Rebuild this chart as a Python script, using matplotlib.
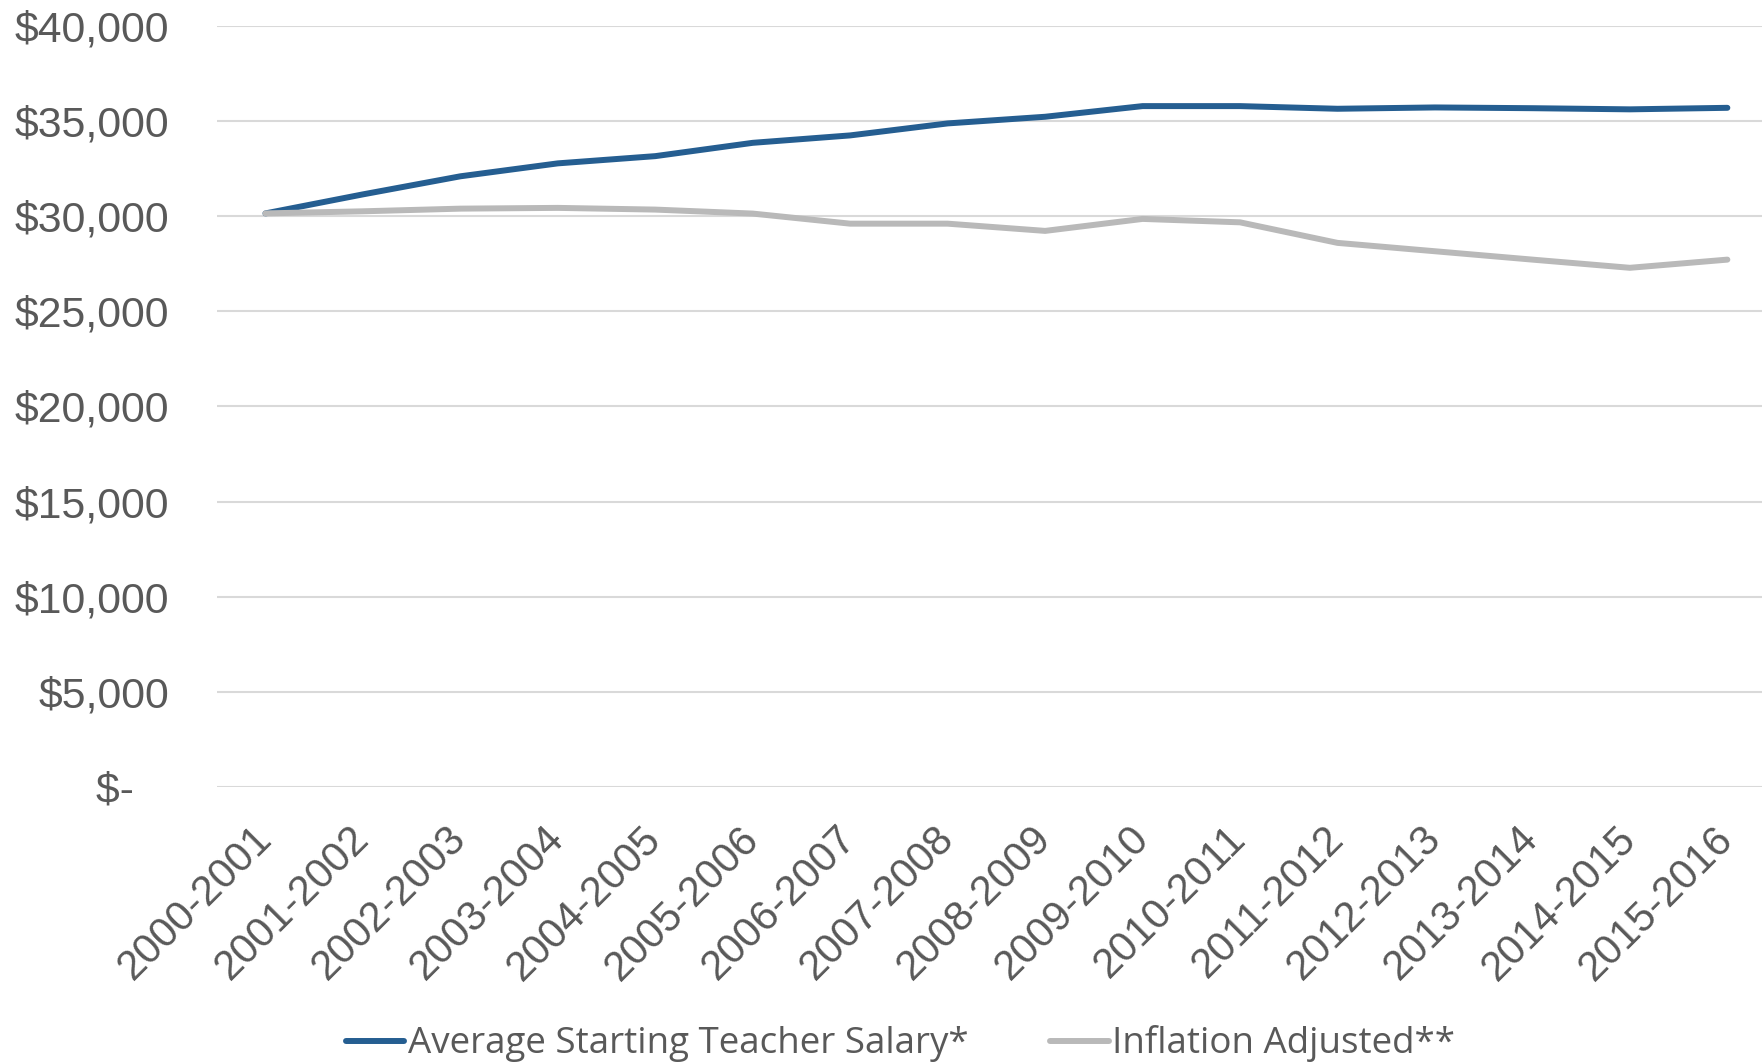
import matplotlib.pyplot as plt
from matplotlib import font_manager
from matplotlib.ticker import FuncFormatter

years = ['2000-2001', '2001-2002', '2002-2003', '2003-2004', '2004-2005',
         '2005-2006', '2006-2007', '2007-2008', '2008-2009', '2009-2010',
         '2010-2011', '2011-2012', '2012-2013', '2013-2014', '2014-2015',
         '2015-2016']
salary = [30150, 31150, 32100, 32780, 33160, 33860, 34250, 34880, 35230,
          35790, 35790, 35650, 35720, 35680, 35620, 35700]
adjusted = [30150, 30260, 30400, 30440, 30350, 30140, 29610, 29610, 29230,
            29860, 29680, 28600, 28160, 27720, 27290, 27720]

blue = '#255E91'
grey = '#B9B9B9'
txt = '#595959'

names = {f.name for f in font_manager.fontManager.ttflist}
legend_font = 'Open Sans'
for cand in ['Liberation Sans Narrow', 'DejaVu Sans Condensed']:
    if cand in names:
        legend_font = cand
        break

plt.rcParams['font.family'] = ['Liberation Sans', 'DejaVu Sans']

fig = plt.figure(figsize=(17.62, 10.62), dpi=100)
ax = fig.add_axes([0.123, 0.259, 0.885, 0.7165])

x = list(range(len(years)))
ax.plot(x, salary, color=blue, lw=4.3, solid_capstyle='round',
        label='Average Starting Teacher Salary*')
ax.plot(x, adjusted, color=grey, lw=4.3, solid_capstyle='round',
        label='Inflation Adjusted**')

ax.set_xlim(-0.5, len(years) - 0.5)
ax.set_ylim(0, 40000)
ax.set_yticks(range(0, 40001, 5000))
ax.yaxis.set_major_formatter(FuncFormatter(
    lambda v, p: '$-   ' if v == 0 else '${:,.0f}'.format(v)))
ax.grid(axis='y', color='#D9D9D9', lw=1.5)
ax.set_axisbelow(True)
for s in ax.spines.values():
    s.set_visible(False)

ax.set_xticks(x)
ax.set_xticklabels(years, rotation=45, ha='right', va='center',
                   rotation_mode='anchor')
ax.tick_params(axis='x', length=0, pad=33, labelsize=30, labelcolor=txt)
ax.tick_params(axis='y', length=0, pad=34, labelsize=30.8, labelcolor=txt)

leg = fig.legend(loc='center', bbox_to_anchor=(0.511, 0.017), ncol=2,
                 frameon=False, handlelength=1.6, handletextpad=0.1,
                 columnspacing=2.2, prop={'family': legend_font, 'size': 26.5})
for t in leg.get_texts():
    t.set_color(txt)

fig.savefig('out.png', dpi=100)
